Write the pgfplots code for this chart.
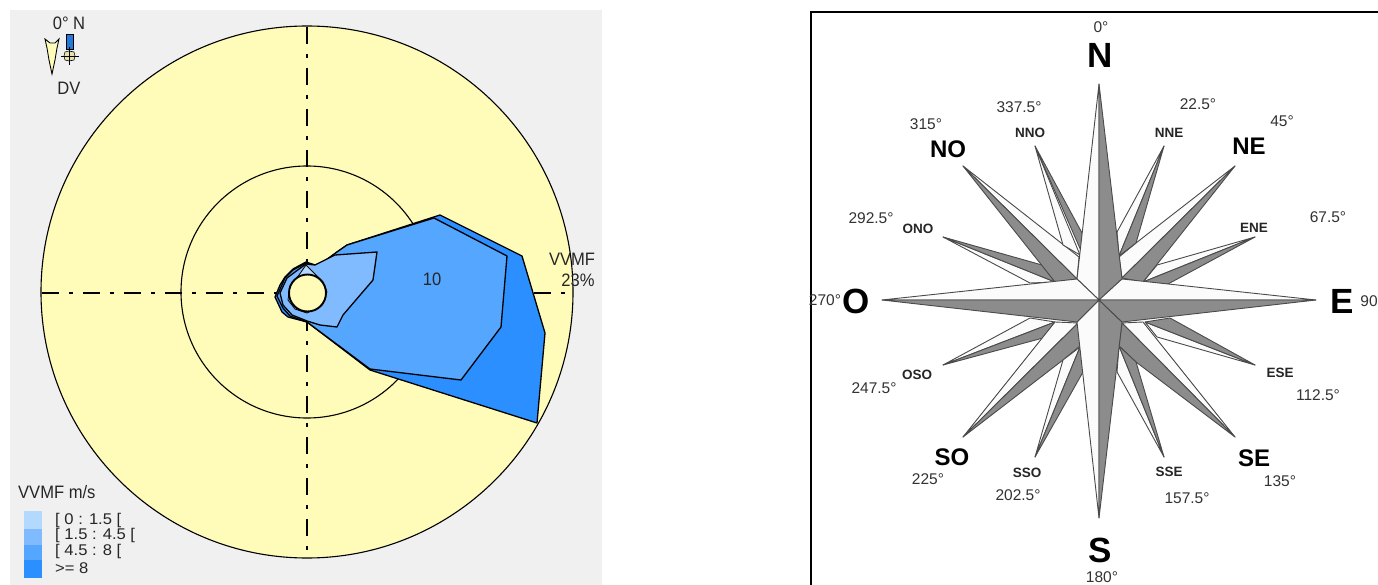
\documentclass[border=0pt]{standalone}
\usepackage{fontspec}
\usepackage{pgfplots}
\pgfplotsset{compat=1.18}
\setmainfont{Liberation Sans}
\definecolor{panel}{HTML}{F0F0F0}
\definecolor{disc}{HTML}{FFFBB9}
\definecolor{bluea}{HTML}{B3D9FF}
\definecolor{blueb}{HTML}{80BBFF}
\definecolor{bluec}{HTML}{55A6FF}
\definecolor{blued}{HTML}{2B8FFF}
\definecolor{rosegray}{HTML}{8C8C8C}
\definecolor{rosewhite}{HTML}{FBFBFB}
\definecolor{roseline}{HTML}{4A4A4A}
\newcommand{\fs}[1]{\fontsize{#1}{#1}\selectfont}
\tikzset{
  wh/.style={fill=rosewhite,draw=roseline,line width=.9pt,line join=round},
  gr/.style={fill=rosegray,draw=roseline,line width=.9pt,line join=round},
  rosep/.style={draw=black,line width=1.3pt,line join=round},
  axl/.style={black,line width=1.1pt,dash pattern=on 17pt off 10pt on 4pt off 10pt},
  lab/.style={inner sep=0pt,font=\fs{15.5},text=black!80},
  mini/.style={inner sep=0pt,font=\fs{13.5}\bfseries,text=black!85},
  big/.style={inner sep=0pt,font=\fs{24}\bfseries},
  huge/.style={inner sep=0pt,font=\fs{35}\bfseries},
  tall/.style={inner sep=0pt,font=\fs{18},xscale=.92,text=black!85},
  leg/.style={inner sep=0pt,font=\fs{15.5},xscale=1.07,text=black!85,anchor=west},
}
\begin{document}
\begin{tikzpicture}
\begin{axis}[
  scale only axis, width=1378pt, height=585pt,
  xmin=0, xmax=1378, ymin=0, ymax=585, y dir=reverse,
  axis lines=none, clip=true,
]
% page background, keeps the picture at full size
\addplot[fill=white,draw=none] coordinates {(0,0) (1378,0) (1378,585) (0,585)} --cycle;
% left panel
\addplot[fill=panel,draw=none] coordinates {(10,10) (602,10) (602,585) (10,585)} --cycle;
\draw[fill=disc,draw=black,line width=1.1pt] (axis cs:307,292) circle[radius=266pt];
\draw[draw=black,line width=1.1pt] (axis cs:307,292) circle[radius=126pt];
\addplot[axl] coordinates {(307,27) (307,557)};
\addplot[axl] coordinates {(42,293) (572,293)};
% wind rose petals, biggest class first
\addplot[rosep,fill=blued] coordinates {(275,297) (280,285) (285,277) (293,269) (306,262) (315,265) (322,263) (337,252) (347,245) (440,215) (522,256) (545,333) (537,423) (370,370) (307,322) (288,317) (282,312)} --cycle;
\addplot[rosep,fill=bluec] coordinates {(277,296) (285,278) (293,270) (306,263) (315,265) (322,263) (337,252) (347,245) (434,218) (507,256) (501,327) (461,380) (370,369) (307,322) (290,316) (283,308)} --cycle;
\addplot[rosep,fill=blueb] coordinates {(280,293) (287,278) (295,272) (306,264) (315,265) (335,255) (377,252) (373,280) (343,315) (337,327) (320,325) (307,321) (292,315) (283,305)} --cycle;
\addplot[rosep,fill=bluea,line width=.8pt] coordinates {(290,286) (299,275) (306,265) (323,282) (327,292) (322,305) (307,313) (295,309) (288,300)} --cycle;
\draw[fill=disc,draw=black,line width=1.9pt] (axis cs:307.5,293) circle[radius=18.5pt];
\node[tall] at (axis cs:432,279) {10};
\node[tall] at (axis cs:572,259) {VVMF};
\node[tall] at (axis cs:578,280) {23\%};
% direction key
\node[tall] at (axis cs:69,23) {0° N};
\node[tall] at (axis cs:69,88) {DV};
\addplot[fill=disc,draw=black,line width=.9pt] coordinates {(45,39) (50,43) (55,43) (59,39) (57,48) (55,60) (52,74) (49,60) (47,48)} --cycle;
\addplot[fill=blued!85!black,draw=black,line width=.9pt] coordinates {(66,34) (73,34) (73,49) (66,49)} --cycle;
\addplot[fill=disc!80!gray,draw=black,line width=.6pt] coordinates {(65,52) (69,51) (74,52) (75,56) (74,60) (69,61) (65,60) (64,56)} --cycle;
\addplot[black,line width=.9pt] coordinates {(61,56) (79,56)};
\addplot[black,line width=.9pt] coordinates {(69.5,47) (69.5,65)};
% speed legend
\node[tall,anchor=west] at (axis cs:18,492) {VVMF m/s};
\addplot[fill=bluea,draw=none] coordinates {(24,511) (42,511) (42,529) (24,529)} --cycle;
\addplot[fill=blueb,draw=none] coordinates {(24,529) (42,529) (42,545) (24,545)} --cycle;
\addplot[fill=bluec,draw=none] coordinates {(24,545) (42,545) (42,560) (24,560)} --cycle;
\addplot[fill=blued,draw=none] coordinates {(24,560) (42,560) (42,578) (24,578)} --cycle;
\node[leg] at (axis cs:55,520) {[ 0 : 1.5 [};
\node[leg] at (axis cs:55,535.5) {[ 1.5 : 4.5 [};
\node[leg] at (axis cs:55,551) {[ 4.5 : 8 [};
\node[leg] at (axis cs:55,568) {>= 8};
% compass frame
\addplot[black,line width=2pt] coordinates {(810.5,585) (810.5,12.5) (1378,12.5)};
% compass rose: 8 secondary spikes, then 8 intermediate ones, then main
\addplot[wh] coordinates {(1255,237) (1157,265) (1143,282)} --cycle;
\addplot[gr] coordinates {(1255,237) (1143,282) (1168,284)} --cycle;
\addplot[wh] coordinates {(943,237) (1055,282) (1030,283)} --cycle;
\addplot[gr] coordinates {(943,237) (1042,265) (1055,282)} --cycle;
\addplot[wh] coordinates {(1255,365) (1145,322) (1157,337)} --cycle;
\addplot[gr] coordinates {(1255,365) (1170,318) (1145,322)} --cycle;
\addplot[wh] coordinates {(943,365) (1055,322) (1030,318)} --cycle;
\addplot[gr] coordinates {(943,365) (1055,322) (1043,338)} --cycle;
\addplot[wh] coordinates {(1235,166) (1136,243) (1119,257) (1122,278)} --cycle;
\addplot[gr] coordinates {(1235,166) (1122,278) (1143,282)} --cycle;
\addplot[wh] coordinates {(963,166) (1079,257) (1077,279)} --cycle;
\addplot[gr] coordinates {(963,166) (1077,279) (1055,282)} --cycle;
\addplot[wh] coordinates {(1235,437) (1143,322) (1122,323)} --cycle;
\addplot[gr] coordinates {(1235,437) (1122,323) (1119,346) (1136,362)} --cycle;
\addplot[wh] coordinates {(963,437) (1055,322) (1078,323)} --cycle;
\addplot[gr] coordinates {(963,437) (1078,323) (1080,346) (1063,360)} --cycle;
\addplot[wh] coordinates {(1164,146) (1119,256) (1117,232)} --cycle;
\addplot[gr] coordinates {(1164,146) (1136,243) (1119,256)} --cycle;
\addplot[wh] coordinates {(1035,146) (1063,245) (1080,255)} --cycle;
\addplot[gr] coordinates {(1035,146) (1082,233) (1082,253)} --cycle;
\addplot[wh] coordinates {(1164,457) (1119,346) (1117,372)} --cycle;
\addplot[gr] coordinates {(1164,457) (1119,346) (1136,362)} --cycle;
\addplot[wh] coordinates {(1035,457) (1080,347) (1063,360)} --cycle;
\addplot[gr] coordinates {(1035,457) (1080,347) (1083,372)} --cycle;
\addplot[wh] coordinates {(1099,84) (1077,279) (1099,300)} --cycle;
\addplot[gr] coordinates {(1099,84) (1099,300) (1122,279)} --cycle;
\addplot[wh] coordinates {(1099,518) (1077,322) (1099,300)} --cycle;
\addplot[gr] coordinates {(1099,518) (1099,300) (1122,322)} --cycle;
\addplot[wh] coordinates {(1316,300) (1122,279) (1099,300)} --cycle;
\addplot[gr] coordinates {(1316,300) (1099,300) (1122,322)} --cycle;
\addplot[wh] coordinates {(882,300) (1077,279) (1099,300)} --cycle;
\addplot[gr] coordinates {(882,300) (1099,300) (1077,322)} --cycle;
% compass text
\node[huge] at (axis cs:1100,55) {N};
\node[huge] at (axis cs:1342,301) {E};
\node[huge] at (axis cs:1100,550) {S};
\node[huge] at (axis cs:856,301) {O};
\node[big] at (axis cs:1249,146) {NE};
\node[big] at (axis cs:948,149) {NO};
\node[big] at (axis cs:1254,458) {SE};
\node[big] at (axis cs:952,457) {SO};
\node[mini] at (axis cs:1169,133) {NNE};
\node[mini] at (axis cs:1030,133) {NNO};
\node[mini] at (axis cs:1254,228) {ENE};
\node[mini] at (axis cs:918,229) {ONO};
\node[mini] at (axis cs:1280,373) {ESE};
\node[mini] at (axis cs:917,375) {OSO};
\node[mini] at (axis cs:1169,472) {SSE};
\node[mini] at (axis cs:1027,473) {SSO};
\node[lab] at (axis cs:1101,27) {0°};
\node[lab] at (axis cs:1198,104) {22.5°};
\node[lab] at (axis cs:1282,121) {45°};
\node[lab] at (axis cs:1328,217) {67.5°};
\node[lab] at (axis cs:1369,301) {90};
\node[lab] at (axis cs:1318,395) {112.5°};
\node[lab] at (axis cs:1280,481) {135°};
\node[lab] at (axis cs:1187,498) {157.5°};
\node[lab] at (axis cs:1102,577) {180°};
\node[lab] at (axis cs:1018,495) {202.5°};
\node[lab] at (axis cs:928,479) {225°};
\node[lab] at (axis cs:874,388) {247.5°};
\node[lab] at (axis cs:825,300) {270°};
\node[lab] at (axis cs:871,218) {292.5°};
\node[lab] at (axis cs:926,124) {315°};
\node[lab] at (axis cs:1019,107) {337.5°};
\end{axis}
\end{tikzpicture}
\end{document}
